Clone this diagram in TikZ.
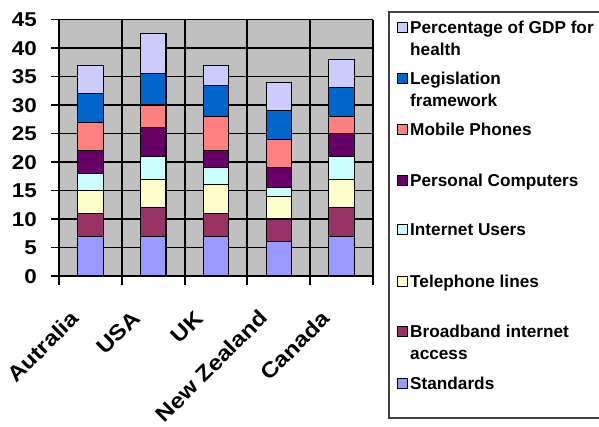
\documentclass[tikz,border=0pt]{standalone}
\usepackage{fontspec}
\setmainfont{Liberation Sans}
\newfontfamily\axisfont{Liberation Sans}[FakeStretch=1.12]
\definecolor{plotgrey}{HTML}{C0C0C0}
\definecolor{ser1}{HTML}{9999FF}% Standards
\definecolor{ser2}{HTML}{993366}% Broadband internet access
\definecolor{ser3}{HTML}{FFFFCC}% Telephone lines
\definecolor{ser4}{HTML}{CCFFFF}% Internet Users
\definecolor{ser5}{HTML}{660066}% Personal Computers
\definecolor{ser6}{HTML}{FF8080}% Mobile Phones
\definecolor{ser7}{HTML}{0066CC}% Legislation framework
\definecolor{ser8}{HTML}{CCCCFF}% Percentage of GDP for health
\definecolor{legframe}{HTML}{404040}

% value -> vertical position (0 at 276, 45 at 19.5)
\newcommand\vpos[1]{276-5.7*(#1)}
% one stacked column: #1 centre, #2 cumulative tops
\newcommand\drawstack[2]{%
  \foreach \t [count=\k, remember=\t as \b (initially 0)] in {#2} {
    \filldraw[barseg, fill=ser\k] (#1-12.75, {\vpos{\b}}) rectangle (#1+12.75, {\vpos{\t}});
  }}

\begin{document}
\begin{tikzpicture}[x=1pt, y=-1pt,
  barseg/.style={draw=black, line width=1.1pt},
  gridline/.style={draw=black, line width=1.1pt},
  axislabel/.style={font=\axisfont\bfseries\fontsize{20}{24}\selectfont, inner sep=0pt},
  catlabel/.style={font=\axisfont\bfseries\fontsize{21.5}{24}\selectfont, inner sep=0pt, rotate=45, anchor=north east},
  legtext/.style={font=\bfseries\fontsize{17.2}{22}\selectfont, inner sep=0pt, anchor=base west},
  legkey/.style={draw=black, line width=0.8pt}]
\useasboundingbox (0,0) rectangle (599,426);
\fill[white] (0,0) rectangle (599,426);

% plot area
\fill[plotgrey] (59,19.5) rectangle (373,276);
\foreach \v in {5,10,...,45}
  \draw[gridline] (59,{\vpos{\v}}) -- (373,{\vpos{\v}});
\foreach \x in {122,185,247,310,373}
  \draw[gridline] (\x,19.5) -- (\x,276);

% columns
\drawstack{90.4}{7,11,15,18,22,27,32,37}
\drawstack{153.2}{7,12,17,21,26,30,35.5,42.5}
\drawstack{216}{7,11,16,19,22,28,33.5,37}
\drawstack{278.8}{6,10,14,15.5,19,24,29,34}
\drawstack{341.6}{7,12,17,21,25,28,33,38}

% axes and ticks
\draw[gridline] (59,19.5) -- (59,276) -- (373,276);
\foreach \v in {0,5,...,45}
  \draw[gridline] (51,{\vpos{\v}}) -- (59,{\vpos{\v}});
\foreach \x in {59,122,185,247,310,373}
  \draw[gridline] (\x,276) -- (\x,285);

% value labels
\foreach \v in {0,5,...,45}
  \node[axislabel, anchor=base east] (v\v) at (37,{\vpos{\v}+7.3}) {\v};

% category labels
\node[catlabel] (cAus) at (69,309) {Autralia};
\node[catlabel] (cUSA) at (131,309) {USA};
\node[catlabel] (cUK)  at (194,309) {UK};
\node[catlabel] (cNZ)  at (258,308) {New Zealand};
\node[catlabel] (cCan) at (320,309) {Canada};

% legend
\draw[legframe, line width=1.6pt] (389,11.7) rectangle (640,418);
\foreach \c/\b in {8/33, 7/84.3, 6/135, 5/186, 4/235.7, 3/287.3, 2/337.7, 1/389.3}
  \draw[legkey, fill=ser\c] (397,\b-11) rectangle (407,\b-1);
\node[legtext] (lGDP)  at (410,33)    {Percentage of GDP for};
\node[legtext] (lGDPb) at (410,55)    {health};
\node[legtext] (lLeg)  at (410,84.3)  {Legislation};
\node[legtext] (lLegb) at (410,106)   {framework};
\node[legtext] (lMob)  at (410,135)   {Mobile Phones};
\node[legtext] (lPC)   at (410,186)   {Personal Computers};
\node[legtext] (lNet)  at (410,235.7) {Internet Users};
\node[legtext] (lTel)  at (410,287.3) {Telephone lines};
\node[legtext] (lBB)   at (410,337.7) {Broadband internet};
\node[legtext] (lBBb)  at (410,359.3) {access};
\node[legtext] (lStd)  at (410,389.3) {Standards};
\end{tikzpicture}
\end{document}
